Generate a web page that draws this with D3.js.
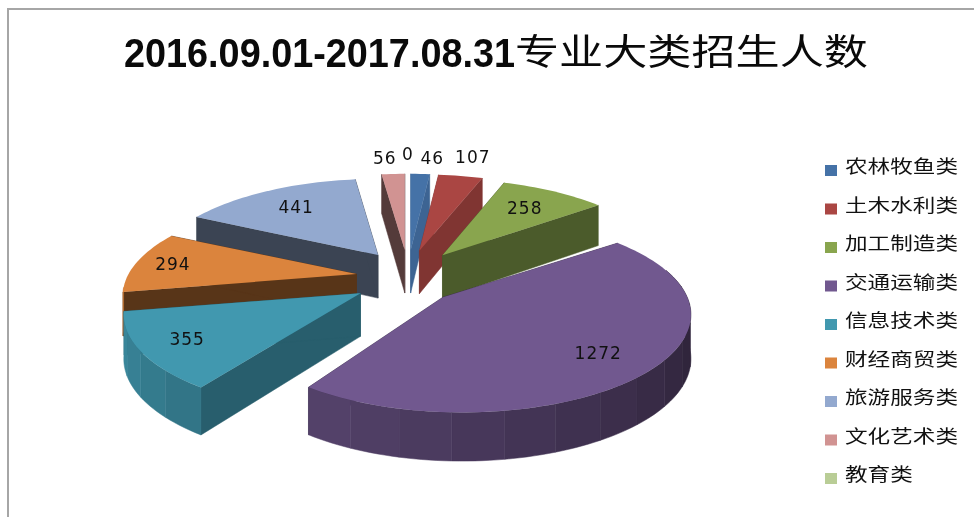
<!DOCTYPE html>
<html>
<head>
<meta charset="utf-8">
<script src="https://cdn.jsdelivr.net/npm/d3@7"></script>
<style>
  body { margin: 0; background: #fff; }
  svg { display: block; filter: blur(0.45px); }
</style>
</head>
<body>
<div id="chart"></div>
<script>
// data
const categories = ["农林牧鱼类", "土木水利类", "加工制造类", "交通运输类", "信息技术类", "财经商贸类", "旅游服务类", "文化艺术类", "教育类"];
const values = [46, 107, 258, 1272, 355, 294, 441, 56, 0];
const colors = ["#4572a7", "#aa4643", "#89a54e", "#71588f", "#4198af", "#db843d", "#93a9cf", "#d19392", "#b9cd96"];

// how dark the cut faces of each slice are
const wallShade = [0.88, 0.75, 0.55, 0.5, 0.62, 0.4, 0.4, 0.4, 0.5];

const width = 974;
const height = 517;

// fake 3D pie settings
const cx = 408, cy = 278;        // pie centre before the slices are pulled out
const explodeX = 52, explodeY = 28;
const rx = 228, ry = 93;
const persp = 0.22;              // front of the pie is drawn bigger than the back
const depth = 43;
const frontFrom = 75 * Math.PI / 180, frontTo = 262 * Math.PI / 180;  // outer wall only shows here

// small per-slice corrections, the original has real perspective
const apexShiftX = [0, 0, 4, -3, -4, 0, 0, 0, 0];
const rimShiftX = [0, 0, 0, 19, -3, 0, 0, 0, 0];
const rimShiftY = [0, 0, 0, -4, 0, 0, 0, 0, 0];
const rimScale = [1, 1, 0.98, 0.98, 1, 1, 0.98, 1, 1];

// where the value labels go: fraction of radius and small nudge
const labelRadius = [1.21, 1.25, 0.74, 0.8, 0.79, 0.82, 0.75, 1.21, 1.26];
const labelNudgeX = [10, 2, 0, -17, 1, -4, 0, -6, 0];

const svg = d3.select("#chart").append("svg")
  .attr("width", width)
  .attr("height", height);

// frame of the chart area
svg.append("path")
  .attr("d", d3.line()([[8, height], [8, 9], [width, 9]]))
  .attr("fill", "none")
  .attr("stroke", "#a6a6a6")
  .attr("stroke-width", 2);

// title, stretched like the original
const titleG = svg.append("g").attr("fill", "#0a0a0a");
titleG.append("text")
  .attr("x", 124).attr("y", 67)
  .attr("font-family", "'Liberation Sans', sans-serif")
  .attr("font-weight", "bold")
  .attr("font-size", 40)
  .attr("textLength", 391)
  .attr("lengthAdjust", "spacingAndGlyphs")
  .text("2016.09.01-2017.08.31");
titleG.append("text")
  .attr("x", 515).attr("y", 65)
  .attr("font-family", "'Noto Sans CJK SC', sans-serif")
  .attr("font-size", 36)
  .attr("textLength", 353)
  .attr("lengthAdjust", "spacingAndGlyphs")
  .text("专业大类招生人数");

const pie = d3.pie().sort(null).value(d => d);
const arcs = pie(values).map((a, i) => ({ ...a, i: i, mid: (a.startAngle + a.endAngle) / 2 }));

function apex(a) {
  return [cx + explodeX * Math.sin(a.mid) + apexShiftX[a.i], cy - explodeY * Math.cos(a.mid), 1];
}

// point on the top face, t = 1 is on the rim
function rimPoint(a, angle, t = 1) {
  const o = apex(a);
  const w = 1 + persp * Math.cos(angle);
  const k = t * rimScale[a.i];
  return [
    o[0] + rimShiftX[a.i] + k * rx * Math.sin(angle) / w,
    o[1] + rimShiftY[a.i] + t * ry * -Math.cos(angle) / w,
    w
  ];
}

function drop(p) {
  return [p[0], p[1] + depth / Math.sqrt(p[2])];
}

function anglesBetween(a0, a1, step) {
  const n = Math.max(1, Math.ceil((a1 - a0) / step));
  return d3.range(n + 1).map(k => a0 + (a1 - a0) * k / n);
}

const line = d3.line().x(d => d[0]).y(d => d[1]);

// darker towards the right of the front, like the facets in the original
function rimShade(angle) {
  const deg = angle * 180 / Math.PI;
  return Math.max(0.35, Math.min(0.9, 0.35 + (deg - 90) / 170 * 0.55));
}

function shade(color, f) {
  const c = d3.rgb(color);
  return d3.rgb(c.r * f, c.g * f, c.b * f).formatHex();
}

const pieG = svg.append("g");

// back slices first
const drawOrder = arcs.filter(a => a.value > 0)
  .sort((p, q) => -Math.cos(p.mid) - -Math.cos(q.mid));

drawOrder.forEach(a => {
  const col = colors[a.i];
  const o = apex(a);
  const wallCol = shade(col, wallShade[a.i]);
  const g = pieG.append("g");

  // two cut faces
  [a.startAngle, a.endAngle].forEach(angle => {
    const p = rimPoint(a, angle);
    g.append("path")
      .attr("d", line([o, p, drop(p), drop(o)]) + "Z")
      .attr("fill", wallCol)
      .attr("stroke", wallCol)
      .attr("stroke-width", 0.5);
  });

  // outer wall in facets, front part only
  const wall0 = Math.max(a.startAngle, frontFrom);
  const wall1 = Math.min(a.endAngle, frontTo);
  if (wall1 > wall0) {
    const facets = anglesBetween(wall0, wall1, 0.2);
    d3.pairs(facets).forEach(pair => {
      const fine = anglesBetween(pair[0], pair[1], 0.03);
      const upper = fine.map(t => rimPoint(a, t));
      const lower = upper.map(drop).reverse();
      const f = rimShade((pair[0] + pair[1]) / 2);
      g.append("path")
        .attr("d", line(upper.concat(lower)) + "Z")
        .attr("fill", shade(col, f))
        .attr("stroke", shade(col, f))
        .attr("stroke-width", 0.5);
    });
  }

  // top face
  const top = anglesBetween(a.startAngle, a.endAngle, 0.03).map(t => rimPoint(a, t));
  g.append("path")
    .attr("d", line([o].concat(top)) + "Z")
    .attr("fill", col);
});

// value labels
svg.append("g").selectAll("text")
  .data(arcs)
  .join("text")
  .attr("x", a => rimPoint(a, a.mid, labelRadius[a.i])[0] + labelNudgeX[a.i])
  .attr("y", a => rimPoint(a, a.mid, labelRadius[a.i])[1])
  .attr("text-anchor", "middle")
  .attr("dominant-baseline", "central")
  .attr("font-family", "'DejaVu Sans', sans-serif")
  .attr("font-size", 17)
  .attr("letter-spacing", 1)
  .attr("fill", "#111")
  .text(a => a.value);

// legend
const legendY = d3.scalePoint().domain(categories).range([165, 473]);
const legend = svg.append("g").selectAll("g")
  .data(categories)
  .join("g")
  .attr("transform", d => `translate(825, ${legendY(d)})`);

legend.append("rect")
  .attr("x", 0)
  .attr("y", 0)
  .attr("width", 12)
  .attr("height", 11)
  .attr("fill", (d, i) => colors[i]);

legend.append("text")
  .attr("x", 20)
  .attr("y", 0)
  .attr("dominant-baseline", "central")
  .attr("font-family", "'Noto Sans CJK SC', sans-serif")
  .attr("font-size", 18)
  .attr("fill", "#111")
  .attr("textLength", d => d.length * 22.6)
  .attr("lengthAdjust", "spacingAndGlyphs")
  .text(d => d);
</script>
</body>
</html>
